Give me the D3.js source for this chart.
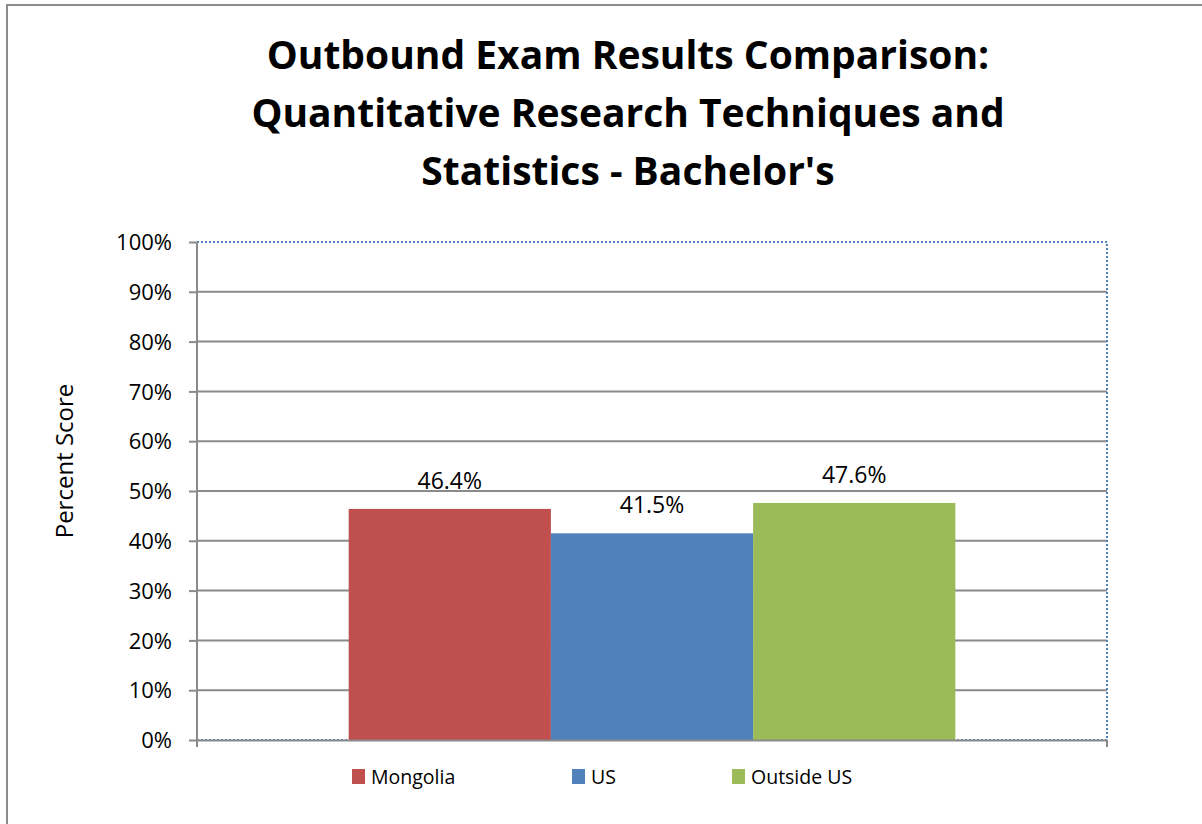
<!DOCTYPE html>
<html>
<head>
<meta charset="utf-8">
<script src="https://cdn.jsdelivr.net/npm/d3@7"></script>
<style>
  body { margin: 0; background: #fff; }
  svg text { font-family: "Open Sans", "Noto Sans", sans-serif; fill: #000; }
</style>
</head>
<body>
<svg id="chart" width="1202" height="824"></svg>
<script>
const titleLines = ["Outbound Exam Results Comparison:", "Quantitative Research Techniques and", "Statistics - Bachelor's"];
const category = ["Bachelor's"];
const series = ["Mongolia", "US", "Outside US"];
const values = [46.4, 41.5, 47.6];
const colors = ["#c0504d", "#4f81bd", "#9bbb59"];
const yTicks = [0, 10, 20, 30, 40, 50, 60, 70, 80, 90, 100];

function drawChart() {
    const svg = d3.select('#chart');
    const margin = {top: 242, right: 95, bottom: 84, left: 197};
    const width = +svg.attr("width") - margin.left - margin.right;
    const height = +svg.attr("height") - margin.top - margin.bottom;

    // outer chart border (runs off right/bottom edge)
    svg.append('rect')
        .attr('x', 7).attr('y', 5)
        .attr('width', 1300).attr('height', 1000)
        .attr('fill', 'none')
        .attr('stroke', '#8c8c8c')
        .attr('stroke-width', 2);

    // title
    svg.append('text')
        .attr('text-anchor', 'middle')
        .style('font-weight', 'bold')
        .style('font-size', '39px')
        .selectAll('tspan')
        .data(titleLines)
        .enter().append('tspan')
        .attr('x', 628)
        .attr('y', (d, i) => 69 + i * 58)
        .text(d => d);

    const g = svg.append('g')
        .attr('transform', `translate(${margin.left},${margin.top})`);

    const y = d3.scaleLinear().domain([0, 100]).range([height, 0]);
    const x0 = d3.scaleBand().domain(category).range([0, width]);
    const x1 = d3.scaleBand().domain(series).range([0, x0.bandwidth()])
        .paddingInner(0).paddingOuter(0.75);

    // gridlines
    g.selectAll('line.grid')
        .data(yTicks.filter(t => t > 0 && t < 100))
        .enter().append('line')
        .attr('class', 'grid')
        .attr('x1', 0).attr('x2', width)
        .attr('y1', d => y(d)).attr('y2', d => y(d))
        .attr('stroke', '#8a8a8a')
        .attr('stroke-width', 2);

    // dotted plot area border
    g.append('rect')
        .attr('x', 0).attr('y', 0)
        .attr('width', width).attr('height', height)
        .attr('fill', 'none')
        .attr('stroke', '#4f81bd')
        .attr('stroke-width', 2)
        .attr('stroke-dasharray', '2,2');

    // bars
    g.selectAll('rect.bar')
        .data(series)
        .enter().append('rect')
        .attr('class', 'bar')
        .attr('x', d => x0(category[0]) + x1(d))
        .attr('y', (d, i) => y(values[i]))
        .attr('width', x1.bandwidth())
        .attr('height', (d, i) => height - y(values[i]))
        .attr('fill', (d, i) => colors[i]);

    // data labels
    g.selectAll('text.lbl')
        .data(series)
        .enter().append('text')
        .attr('class', 'lbl')
        .attr('x', d => x0(category[0]) + x1(d) + x1.bandwidth() / 2)
        .attr('y', (d, i) => y(values[i]) - 20)
        .attr('text-anchor', 'middle')
        .style('font-size', '23px')
        .text((d, i) => values[i].toFixed(1) + '%');

    // y axis
    const yAxis = g.append('g')
        .call(d3.axisLeft(y).tickValues(yTicks).tickFormat(d => d + '%').tickSize(8).tickPadding(17));
    yAxis.select('.domain').attr('stroke', '#8a8a8a').attr('stroke-width', 2).attr('d', `M0,${height + 6}V0`);
    yAxis.selectAll('.tick line').attr('stroke', '#8a8a8a').attr('stroke-width', 2);
    yAxis.selectAll('.tick text').style('font-size', '22px').attr('dy', '0.35em')
        .style('font-family', '"Open Sans", "Noto Sans", sans-serif');

    // x axis
    const xAxis = g.append('g')
        .attr('transform', `translate(0,${height})`)
        .call(d3.axisBottom(x0).tickValues([]).tickSizeOuter(0));
    xAxis.select('.domain').attr('stroke', '#8a8a8a').attr('stroke-width', 2);
    xAxis.selectAll('line.edge')
        .data([0, width])
        .enter().append('line')
        .attr('class', 'edge')
        .attr('x1', d => d).attr('x2', d => d)
        .attr('y1', 0).attr('y2', 7)
        .attr('stroke', '#8a8a8a')
        .attr('stroke-width', 2);

    // y axis title
    svg.append('text')
        .attr('transform', `translate(73,461) rotate(-90)`)
        .attr('text-anchor', 'middle')
        .style('font-size', '24px')
        .text('Percent Score');

    // legend
    const legendX = [352, 572, 732];
    const legend = svg.selectAll('g.legend')
        .data(series)
        .enter().append('g')
        .attr('class', 'legend')
        .attr('transform', (d, i) => `translate(${legendX[i]},769)`);
    legend.append('rect')
        .attr('width', 13).attr('height', 15)
        .attr('fill', (d, i) => colors[i]);
    legend.append('text')
        .attr('x', 19).attr('y', 15)
        .style('font-size', '19.5px')
        .text(d => d);
}

drawChart();
</script>
</body>
</html>
